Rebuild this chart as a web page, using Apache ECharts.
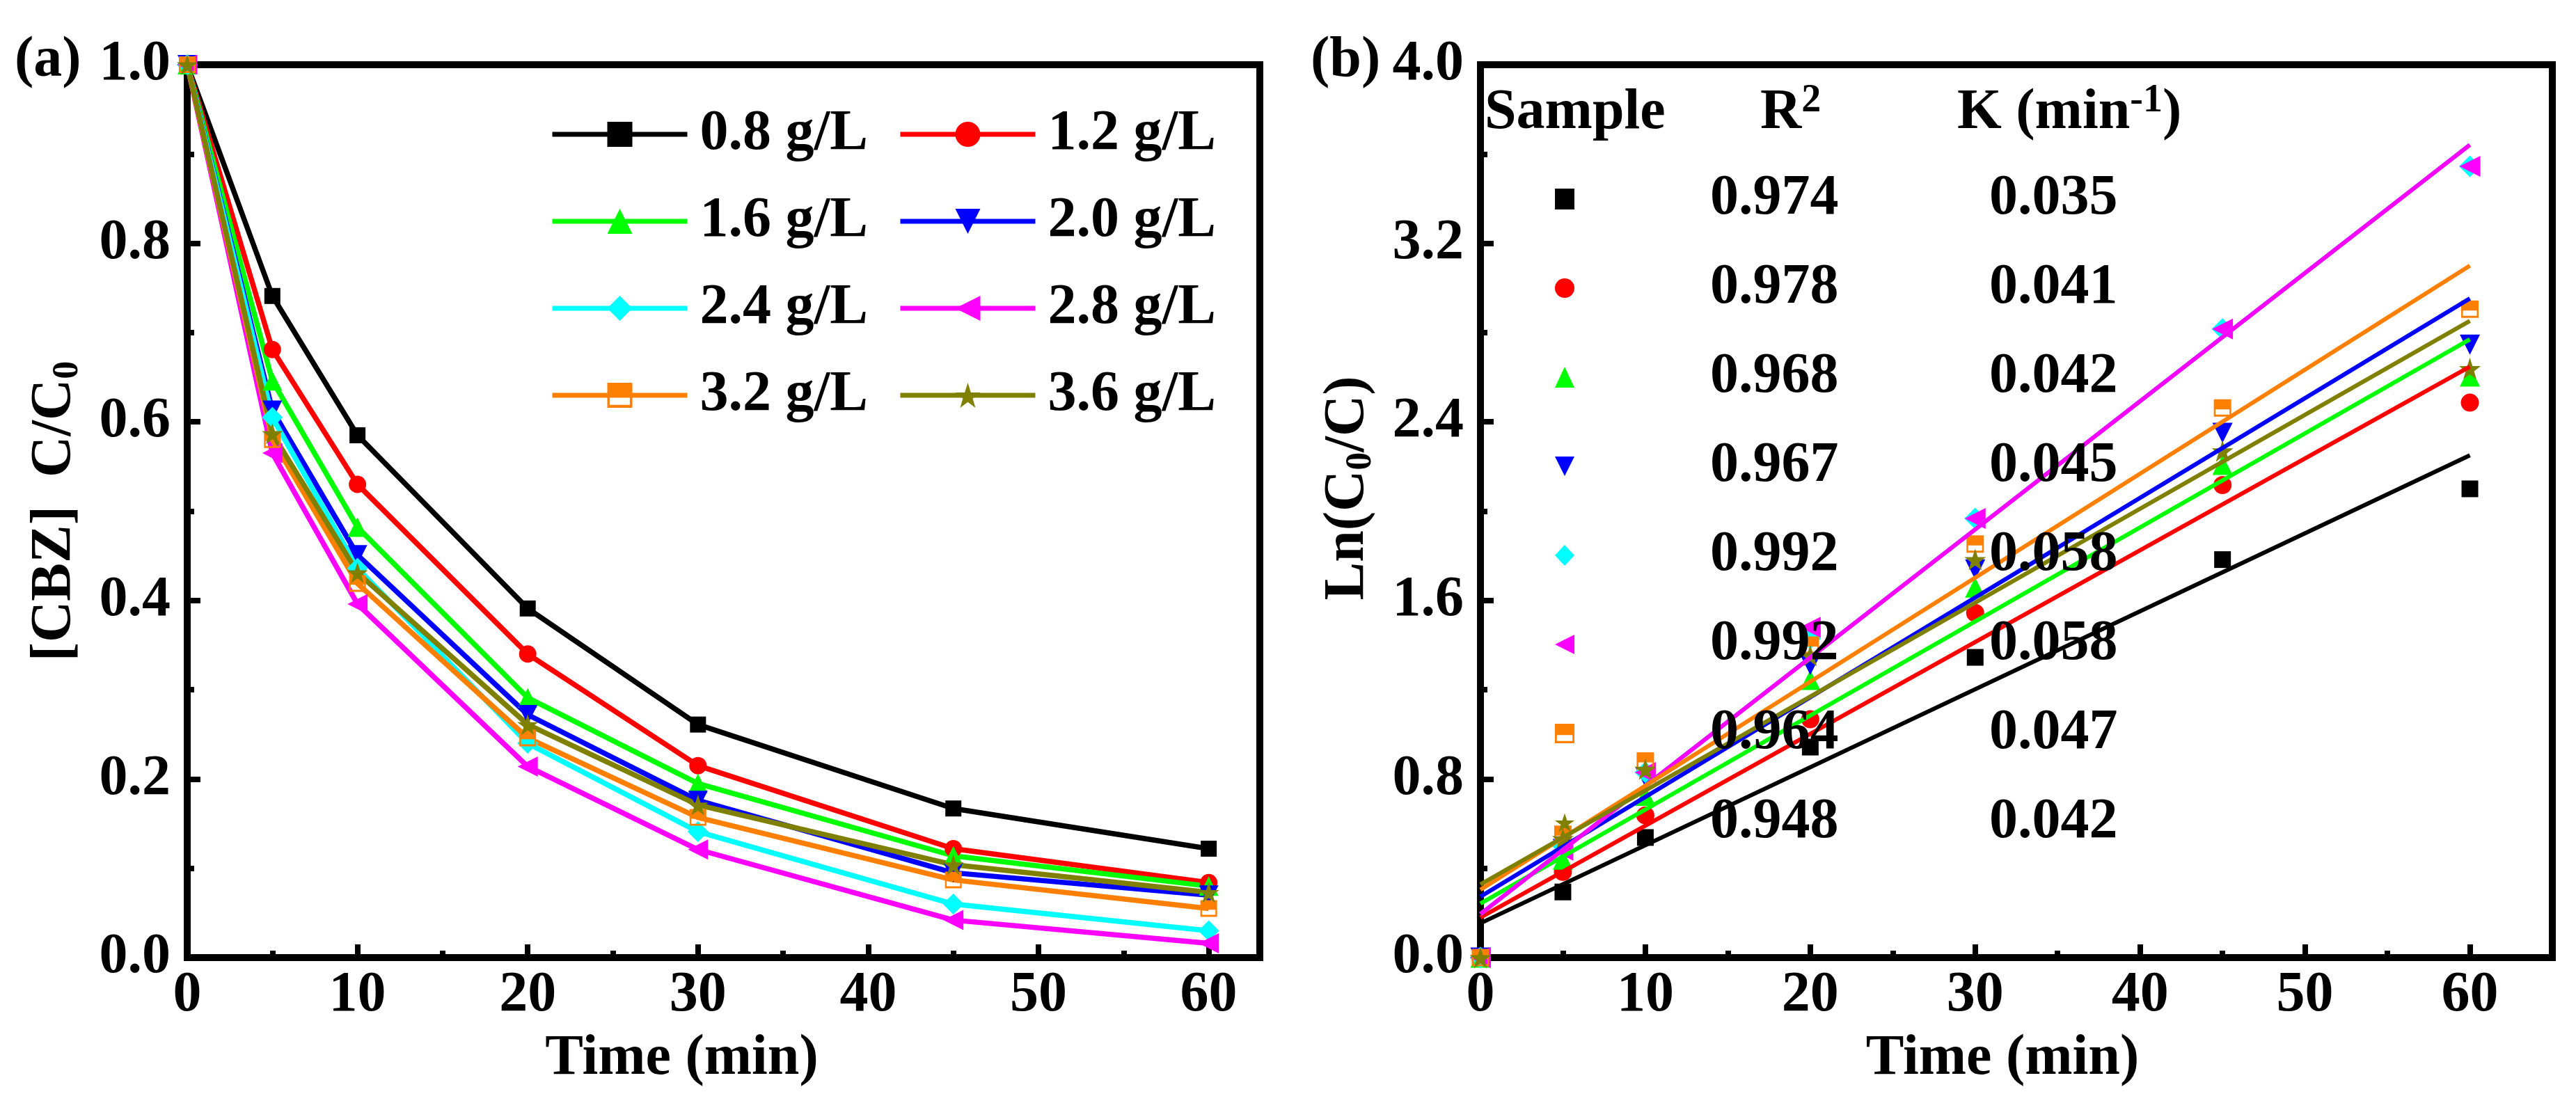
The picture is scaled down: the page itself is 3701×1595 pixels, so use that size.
<!DOCTYPE html>
<html>
<head>
<meta charset="utf-8">
<style>
  html, body { margin: 0; padding: 0; background: #fff; }
  #chart { width: 3701px; height: 1595px; }
</style>
<script src="https://cdn.jsdelivr.net/npm/echarts@6/dist/echarts.min.js"></script>
</head>
<body>
<div id="chart"></div>
<script>
var FONT = "'Liberation Serif', 'Times New Roman', serif";

// ===== Data =====
var times = [0, 5, 10, 20, 30, 45, 60];
var doses = ['0.8 g/L', '1.2 g/L', '1.6 g/L', '2.0 g/L', '2.4 g/L', '2.8 g/L', '3.2 g/L', '3.6 g/L'];

// (a) [CBZ] C/C0
var ratio08 = [1.0, 0.741, 0.585, 0.391, 0.261, 0.167, 0.122];
var ratio12 = [1.0, 0.681, 0.530, 0.340, 0.215, 0.122, 0.084];
var ratio16 = [1.0, 0.646, 0.482, 0.291, 0.195, 0.114, 0.080];
var ratio20 = [1.0, 0.613, 0.451, 0.272, 0.176, 0.095, 0.070];
var ratio24 = [1.0, 0.605, 0.436, 0.240, 0.141, 0.060, 0.030];
var ratio28 = [1.0, 0.565, 0.396, 0.214, 0.121, 0.042, 0.016];
var ratio32 = [1.0, 0.580, 0.419, 0.246, 0.157, 0.087, 0.055];
var ratio36 = [1.0, 0.587, 0.431, 0.261, 0.171, 0.104, 0.073];

// (b) Ln(C0/C)
var ln08 = [0, 0.294, 0.538, 0.943, 1.345, 1.783, 2.100];
var ln12 = [0, 0.384, 0.637, 1.068, 1.544, 2.117, 2.486];
var ln16 = [0, 0.439, 0.725, 1.244, 1.658, 2.207, 2.603];
var ln20 = [0, 0.486, 0.808, 1.311, 1.739, 2.351, 2.746];
var ln24 = [0, 0.500, 0.830, 1.430, 1.967, 2.816, 3.545];
var ln28 = [0, 0.481, 0.829, 1.480, 1.967, 2.816, 3.545];
var ln32 = [0, 0.553, 0.881, 1.400, 1.853, 2.462, 2.905];
var ln36 = [0, 0.533, 0.844, 1.353, 1.783, 2.270, 2.639];

// fitted lines: value at t = 0 and t = 60
var fitTimes = [0, 60];
var fitStart = [0.154, 0.180, 0.242, 0.273, 0.195, 0.195, 0.304, 0.328];
var fitEnd   = [2.250, 2.647, 2.770, 2.953, 3.641, 3.641, 3.100, 2.852];

var r2Values = ['0.974', '0.978', '0.968', '0.967', '0.992', '0.992', '0.964', '0.948'];
var kValues  = ['0.035', '0.041', '0.042', '0.045', '0.058', '0.058', '0.047', '0.042'];

var xMajor = [0, 10, 20, 30, 40, 50, 60];
var xMinor = [5, 15, 25, 35, 45, 55];

var ratios = [ratio08, ratio12, ratio16, ratio20, ratio24, ratio28, ratio32, ratio36];
var lns = [ln08, ln12, ln16, ln20, ln24, ln28, ln32, ln36];
var sampleNames = doses.map(function(d) { return 'Sample ' + d; });

// ===== Styles =====
var colors = ['#000000', '#ff0000', '#00ff00', '#0000ff', '#00ffff', '#ff00ff', '#ff8000', '#808000'];
var STAR = 'path://M50,0L61.8,35.1L98.1,35.1L68.8,56.8L79.4,91L50,70L20.6,91L31.2,56.8L1.9,35.1L38.2,35.1Z';
var HALF_SQUARE = 'path://M0,0L100,0L100,100L0,100Z M10,58L10,88L90,88L90,58Z';
var TRI_DOWN = 'path://M0,0L100,0L50,100Z';
var TRI_LEFT = 'path://M100,0L100,100L0,50Z';
var symbols = ['rect', 'circle', 'triangle', TRI_DOWN, 'diamond', TRI_LEFT, HALF_SQUARE, STAR];
var sizes = [23, 25, 28, 28, 30, 29, 24, 30];

var black = '#000';

function font(extra) {
  var o = { color: black, fontFamily: FONT, fontWeight: 'bold', fontSize: 82 };
  for (var k in extra) o[k] = extra[k];
  return o;
}

function xAxes(grid, max, namePad) {
  return [{
    gridIndex: grid, type: 'value', min: 0, max: max, position: 'bottom',
    axisLine: { show: true, lineStyle: { color: black, width: 10 } },
    axisTick: { show: true, inside: true, length: 19, customValues: xMajor, lineStyle: { color: black, width: 8 } },
    axisLabel: font({ customValues: xMajor, margin: 14 }),
    splitLine: { show: false },
    name: 'Time (min)', nameLocation: 'middle', nameGap: 88,
    nameTextStyle: font({ lineHeight: 90, padding: [0, namePad, 0, 0] })
  }, {
    gridIndex: grid, type: 'value', min: 0, max: max, position: 'bottom',
    axisLine: { show: false },
    axisTick: { show: true, inside: true, length: 10, customValues: xMinor, lineStyle: { color: black, width: 8 } },
    axisLabel: { show: false },
    splitLine: { show: false }
  }];
}

function yAxis(grid, max, interval, name, namePad) {
  return {
    gridIndex: grid, type: 'value', min: 0, max: max, interval: interval,
    axisLine: { show: true, lineStyle: { color: black, width: 10 } },
    axisTick: { show: true, inside: true, length: 19, lineStyle: { color: black, width: 8 } },
    minorTick: { show: true, splitNumber: 2, length: 10, lineStyle: { color: black, width: 8 } },
    axisLabel: font({ margin: 24, formatter: function(v) { return v.toFixed(1); } }),
    splitLine: { show: false },
    name: name, nameLocation: 'middle', nameGap: 145,
    nameTextStyle: font({
      lineHeight: 90, padding: [0, 0, 0, namePad],
      rich: { sub: font({ fontSize: 52, lineHeight: 24, verticalAlign: 'bottom' }) }
    })
  };
}

// ===== Series =====
var series = [];
doses.forEach(function(d, i) {
  series.push({
    name: d, type: 'line', xAxisIndex: 0, yAxisIndex: 0,
    data: times.map(function(t, j) { return [t, ratios[i][j]]; }),
    symbol: symbols[i], symbolSize: sizes[i],
    lineStyle: { color: colors[i], width: 7.5 },
    itemStyle: { color: colors[i], opacity: 1 },
    emphasis: { disabled: true }
  });
});
doses.forEach(function(d, i) {
  series.push({
    name: 'fit ' + d, type: 'line', xAxisIndex: 2, yAxisIndex: 1,
    data: fitTimes.map(function(t, j) { return [t, j === 0 ? fitStart[i] : fitEnd[i]]; }),
    symbol: 'none',
    lineStyle: { color: colors[i], width: 6 },
    emphasis: { disabled: true }
  });
});
doses.forEach(function(d, i) {
  series.push({
    name: sampleNames[i], type: 'scatter', xAxisIndex: 2, yAxisIndex: 1,
    data: times.map(function(t, j) { return [t, lns[i][j]]; }),
    symbol: symbols[i], symbolSize: sizes[i] + 1,
    itemStyle: { color: colors[i], opacity: 1 },
    emphasis: { disabled: true }
  });
});

var chart = echarts.init(document.getElementById('chart'));
chart.setOption({
  animation: false,
  backgroundColor: '#fff',
  grid: [
    { left: 269, top: 93, width: 1541, height: 1283, show: true, borderColor: black, borderWidth: 10 },
    { left: 2127, top: 93, width: 1540, height: 1283, show: true, borderColor: black, borderWidth: 10 }
  ],
  xAxis: xAxes(0, 63, 120).concat(xAxes(1, 65, 40)),
  yAxis: [
    yAxis(0, 1, 0.2, '[CBZ]  C/C{sub|0}', 0),
    yAxis(1, 4, 0.8, 'Ln(C{sub|0}/C)', 66)
  ],
  legend: [{
    data: doses, left: 785, top: 147, width: 1000, orient: 'horizontal',
    itemWidth: 194, itemHeight: 45, itemGap: 43, selectedMode: false,
    lineStyle: { width: 7 },
    textStyle: font({ lineHeight: 63, padding: [0, 0, 0, 13] })
  }, {
    data: sampleNames.map(function(n, i) {
      return { name: n, icon: symbols[i], itemStyle: { color: colors[i], opacity: 1 } };
    }),
    left: 2229, top: 240, orient: 'vertical',
    itemWidth: 28, itemHeight: 30, itemGap: 46, selectedMode: false,
    formatter: function(name) {
      var i = sampleNames.indexOf(name);
      return '{r|' + r2Values[i] + '}{k|' + kValues[i] + '}';
    },
    textStyle: font({
      lineHeight: 60,
      rich: {
        r: font({ lineHeight: 60, width: 401, padding: [0, 0, 0, 190] }),
        k: font({ lineHeight: 60 })
      }
    })
  }],
  graphic: [
    { type: 'text', x: 21, y: 88, style: font({ text: '(a)', fill: black, verticalAlign: 'middle' }) },
    { type: 'text', x: 1883, y: 88, style: font({ text: '(b)', fill: black, verticalAlign: 'middle' }) },
    { type: 'text', x: 2133, y: 163, style: font({ text: 'Sample', fill: black, verticalAlign: 'middle' }) },
    { type: 'text', x: 2529, y: 163, style: font({
      text: 'R{sup|2}', fill: black, verticalAlign: 'middle', lineHeight: 90,
      rich: { sup: font({ fontSize: 56, lineHeight: 36, verticalAlign: 'top', fill: black }) }
    }) },
    { type: 'text', x: 2812, y: 163, style: font({
      text: 'K (min{sup|-1})', fill: black, verticalAlign: 'middle', lineHeight: 90,
      rich: { sup: font({ fontSize: 56, lineHeight: 36, verticalAlign: 'top', fill: black }) }
    }) }
  ],
  series: series
});
window.addEventListener('resize', function() { chart.resize(); });
</script>
</body>
</html>
